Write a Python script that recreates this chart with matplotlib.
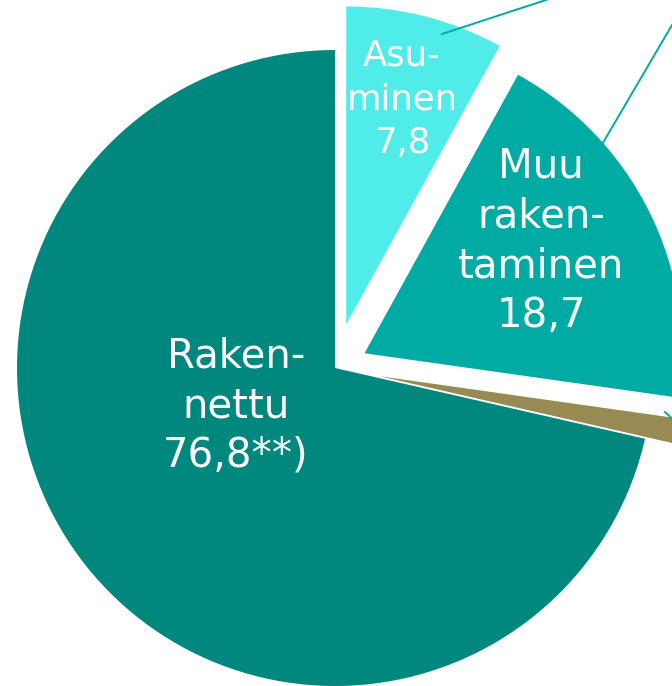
import matplotlib
matplotlib.use("Agg")
import matplotlib.pyplot as plt

# Slice sizes, counter-clockwise from the top
categories = ["Rakennettu", "Muu", "Muu rakentaminen", "Asuminen"]
values = [69.5, 1.3, 18.7, 7.8]
labels = ["Raken-\nnettu\n76,8**)", "", "Muu\nraken-\ntaminen\n18,7", "Asu-\nminen\n7,8"]
colors = ["#00877E", "#978A52", "#00ABA4", "#50ECEA"]
explode_px = [0.0, 45, 33, 45]

W, H = 672, 686
fig = plt.figure(figsize=(W / 100, H / 100), dpi=100)
ax = fig.add_axes([0, 0, 1, 1])

cx, cy, r = 335, H - 368, 318
wedges, _ = ax.pie(values, colors=colors, explode=explode_px, startangle=90,
                   counterclock=True, center=(cx, cy), radius=r,
                   wedgeprops=dict(linewidth=0), frame=True)
ax.set_xlim(0, W)
ax.set_ylim(0, H)
ax.set_aspect("equal")
ax.axis("off")

# leader lines
lc = "#00AAA8"
ax.plot([442, 552], [H - 34, H + 2], color=lc, lw=1.4)
ax.plot([597, 690], [H - 153, H - 153 + 93 * 128 / 75], color=lc, lw=1.4)
ax.plot([665, 680], [H - 412, H - 426], color=lc, lw=1.4)

font = "DejaVu Sans"

def block(text, x, first_baseline, step, size):
    for i, line in enumerate(text.split("\n")):
        ax.text(x, H - (first_baseline + i * step), line, ha="center",
                va="baseline", color="white", fontsize=size, family=font)

block(labels[0], 236, 367, 50, 29)
block(labels[2], 541, 177, 50, 29)
block(labels[3], 402, 65, 44, 25.5)

fig.savefig("out.png", dpi=100)
